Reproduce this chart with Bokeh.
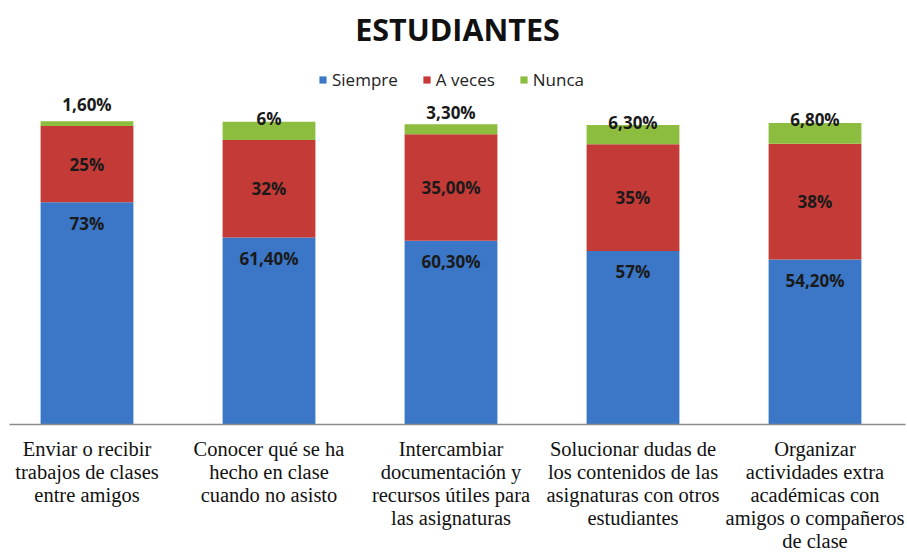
from bokeh.plotting import figure
from bokeh.models import Range1d, FixedTicker, Legend, LegendItem, ColumnDataSource, Title
from bokeh.core.properties import value
from bokeh.embed import file_html
from bokeh.resources import INLINE

categories = [
    "Enviar o recibir\ntrabajos de clases\nentre amigos",
    "Conocer qué se ha\nhecho en clase\ncuando no asisto",
    "Intercambiar\ndocumentación y\nrecursos útiles para\nlas asignaturas",
    "Solucionar dudas de\nlos contenidos de las\nasignaturas con otros\nestudiantes",
    "Organizar\nactividades extra\nacadémicas con\namigos o compañeros\nde clase",
]
series = ["Siempre", "A veces", "Nunca"]
siempre = [73.0, 61.4, 60.3, 57.0, 54.2]
a_veces = [25.0, 32.0, 35.0, 35.0, 38.0]
nunca = [1.6, 6.0, 3.3, 6.3, 6.8]
siempre_lbl = ["73%", "61,40%", "60,30%", "57%", "54,20%"]
a_veces_lbl = ["25%", "32%", "35,00%", "35%", "38%"]
nunca_lbl = ["1,60%", "6%", "3,30%", "6,30%", "6,80%"]

colors = ["#3b77c6", "#c43a37", "#8dbd3e"]

W, H = 907, 560
left_px, right_px = 9, 905
top_px, base_px = 54.5, 424
px_per_unit = 182.0
px_per_pct = 3.05
x0 = -(86.5 - left_px) / px_per_unit
x1 = x0 + (right_px - left_px) / px_per_unit
ymax = (base_px - top_px) / px_per_pct

xs = list(range(len(categories)))
src = ColumnDataSource(dict(
    x=xs, Siempre=siempre, **{"A veces": a_veces}, Nunca=nunca,
))

p = figure(width=W, height=H, x_range=Range1d(x0, x1), y_range=Range1d(0, ymax),
           output_backend="svg", toolbar_location=None,
           min_border_left=left_px, min_border_right=W - right_px,
           min_border_bottom=H - base_px, min_border_top=0)
p.title = Title(text="ESTUDIANTES", align="center", text_font="Open Sans",
                text_font_size="30.5px", text_font_style="bold", text_color="#111111",
                offset=-6, standoff=11)
p.outline_line_color = None
p.background_fill_color = "white"
p.border_fill_color = "white"
p.xgrid.visible = False
p.ygrid.visible = False
p.yaxis.visible = False

renderers = p.vbar_stack(series, x="x", width=0.51, source=src, color=colors,
                         line_color=None)

# labels
lab_s = ColumnDataSource(dict(x=xs, y=siempre, t=siempre_lbl))
p.text(x="x", y="y", text="t", source=lab_s, text_align="center", text_baseline="middle",
       y_offset=21, text_font=value("Open Sans"), text_font_style="bold",
       text_font_size="17px", text_color="#1a1a1a")
lab_a = ColumnDataSource(dict(x=xs, y=[s + a / 2 for s, a in zip(siempre, a_veces)], t=a_veces_lbl))
p.text(x="x", y="y", text="t", source=lab_a, text_align="center", text_baseline="middle",
       text_font=value("Open Sans"), text_font_style="bold",
       text_font_size="17px", text_color="#1a1a1a")
tot = [s + a + n for s, a, n in zip(siempre, a_veces, nunca)]
offs = [-17 if n < 2 else (-12 if n < 5 else -3) for n in nunca]
lab_n = ColumnDataSource(dict(x=xs, y=tot, t=nunca_lbl, o=offs))
p.text(x="x", y="y", text="t", source=lab_n, text_align="center", text_baseline="middle",
       y_offset="o", text_font=value("Open Sans"), text_font_style="bold",
       text_font_size="17px", text_color="#1a1a1a")

legend = Legend(items=[LegendItem(label=s, renderers=[r]) for s, r in zip(series, renderers)],
                orientation="horizontal", location=(309, 333),
                border_line_color=None, background_fill_alpha=0,
                label_text_font="Open Sans", label_text_font_size="17px",
                label_text_color="#222222", glyph_width=9, glyph_height=9,
                spacing=24, label_standoff=5, padding=0, margin=0)
p.add_layout(legend, "center")

p.xaxis.ticker = FixedTicker(ticks=xs)
p.xaxis.major_label_overrides = {i: c for i, c in zip(xs, categories)}
p.xaxis.major_label_text_font = "Liberation Serif"
p.xaxis.major_label_text_font_size = "20.5px"
p.xaxis.major_label_text_line_height = 1.05
p.xaxis.major_label_text_color = "#111111"
p.xaxis.major_tick_line_color = None
p.xaxis.minor_tick_line_color = None
p.xaxis.axis_line_color = "#8c8c8c"
p.xaxis.axis_line_width = 1.5
p.xaxis.major_label_standoff = 7

open("out.html", "w").write(file_html(p, INLINE))
